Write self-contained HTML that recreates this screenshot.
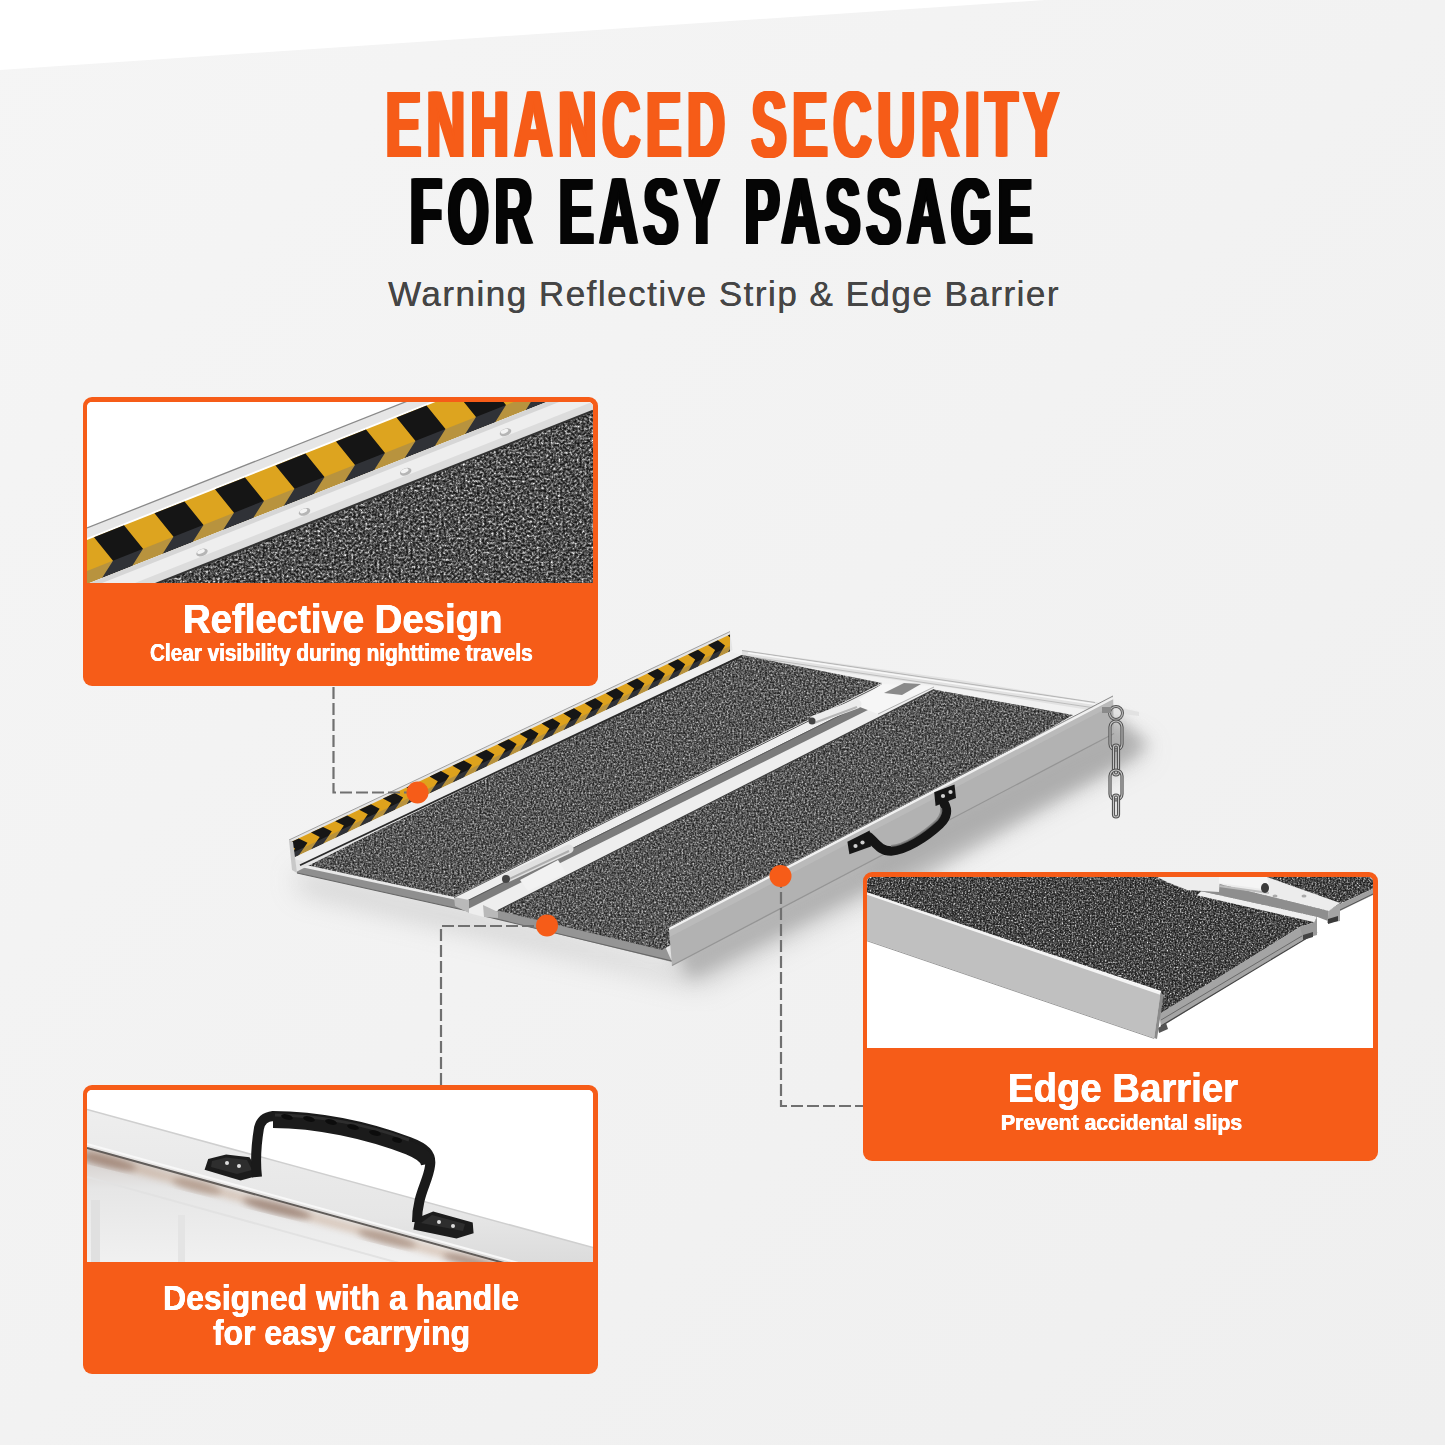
<!DOCTYPE html>
<html><head><meta charset="utf-8">
<style>
html,body{margin:0;padding:0;}
body{width:1445px;height:1445px;position:relative;overflow:hidden;background:#f3f3f3;font-family:"Liberation Sans",sans-serif;}
svg{position:absolute;left:0;top:0;}
.tx{position:absolute;white-space:nowrap;transform-origin:0 0;line-height:1;}
.box{position:absolute;width:515px;height:289px;background:#f65c18;border-radius:9px;overflow:hidden;}
.box .img{position:absolute;left:4px;top:5px;width:506px;background:#fff;border-radius:5px 5px 0 0;overflow:hidden;}
.box .img svg{position:absolute;left:0;top:0;}
.w{color:#fff;font-weight:bold;text-shadow:0.4px 0 0 #fff,-0.4px 0 0 #fff;}
</style></head>
<body>
<svg id="bg" width="1445" height="1445">
  <defs>
    <linearGradient id="bgg" x1="0" y1="0" x2="1" y2="1">
      <stop offset="0" stop-color="#f5f5f5"/>
      <stop offset="1" stop-color="#efefef"/>
    </linearGradient>
  </defs>
  <rect width="1445" height="1445" fill="url(#bgg)"/>
  <polygon points="0,0 1045,0 0,70" fill="#ffffff"/>
</svg>

<div class="tx" id="t1" style="left:385.5px;top:77px;font-size:95px;font-weight:bold;color:#f65c18;letter-spacing:11px;text-shadow:4px 0 0 #f65c18,2px 0 0 #f65c18,-2px 0 0 #f65c18,-4px 0 0 #f65c18;transform:scaleX(0.5508)">ENHANCED SECURITY</div>
<div class="tx" id="t2" style="left:410px;top:164px;font-size:95px;font-weight:bold;color:#050505;letter-spacing:11px;text-shadow:4px 0 0 #050505,2px 0 0 #050505,-2px 0 0 #050505,-4px 0 0 #050505;transform:scaleX(0.5495)">FOR EASY PASSAGE</div>
<div class="tx" id="sub" style="left:388px;top:276px;font-size:35px;color:#454545;letter-spacing:1.5px;text-shadow:0.35px 0 0 #454545">Warning Reflective Strip &amp; Edge Barrier</div>
<svg id="ramp" width="1445" height="1445">
  <defs>
    <filter id="carpet" x="0" y="0" width="100%" height="100%" filterUnits="objectBoundingBox" color-interpolation-filters="sRGB">
      <feTurbulence type="fractalNoise" baseFrequency="0.55" numOctaves="2" seed="3" result="n"/>
      <feColorMatrix in="n" type="matrix" values="1 0 0 0 0  1 0 0 0 0  1 0 0 0 0  0 0 0 0 1"/>
      <feComponentTransfer><feFuncR type="gamma" amplitude="0.95" exponent="1.8" offset="0.07"/><feFuncG type="gamma" amplitude="0.95" exponent="1.8" offset="0.07"/><feFuncB type="gamma" amplitude="0.95" exponent="1.8" offset="0.07"/></feComponentTransfer>
      <feGaussianBlur stdDeviation="0.45"/>
    </filter>
    <filter id="blur3"><feGaussianBlur stdDeviation="3"/></filter>
    <filter id="blur8"><feGaussianBlur stdDeviation="8"/></filter>
    <filter id="blur14"><feGaussianBlur stdDeviation="14"/></filter>
    <clipPath id="carpetClip">
      <polygon points="306,865 742,655 882,683 454,897"/>
      <polygon points="498,910.5 934,689.5 1073,715 662,950"/>
    </clipPath>
    <linearGradient id="wallR" x1="0" y1="0" x2="0.1" y2="1">
      <stop offset="0" stop-color="#c6c6c6"/>
      <stop offset="0.5" stop-color="#b9b9b9"/>
      <stop offset="1" stop-color="#a4a4a4"/>
    </linearGradient>
  </defs>
<polygon points="296,872 470,912 672,966 1114,734 1150,750 700,985 470,930 300,890" fill="#b9b9b9" filter="url(#blur14)" opacity="0.75"/>
<polygon points="672,945 1114,715 1150,745 690,978" fill="#9c9c9c" filter="url(#blur8)" opacity="0.6"/>
<polygon points="860,865 1114,720 1140,752 900,892" fill="#a8a8a8" filter="url(#blur8)" opacity="0.5"/>
<polygon points="742.0,650.0 960.0,680.0 1095.0,702.0 1139.0,712.0 1139.0,716.0 1095.0,711.0 960.0,689.0 742.0,658.0" fill="#e2e2e2" />
<line x1="742" y1="650.5" x2="1095" y2="702.5" stroke="#b5b5b5" stroke-width="1"/>
<line x1="745" y1="656" x2="1095" y2="708" stroke="#bdbdbd" stroke-width="1"/>
<line x1="748" y1="653" x2="1100" y2="705" stroke="#f8f8f8" stroke-width="1.5"/>
<polygon points="296.0,866.0 466.0,902.0 468.0,911.0 297.0,873.0" fill="#8f8f8f" />
<line x1="297" y1="873" x2="468" y2="911" stroke="#666" stroke-width="1.2"/>
<polygon points="484.0,906.0 664.0,944.0 672.0,962.0 484.0,916.0" fill="#959595" />
<line x1="484" y1="916" x2="672" y2="961" stroke="#666" stroke-width="1.2"/>
<rect x="290" y="640" width="800" height="320" filter="url(#carpet)" clip-path="url(#carpetClip)"/>
<polygon points="289.0,840.0 730.0,631.6 732.5,650.0 296.0,872.0" fill="#e4e4e4" />
<polygon points="291.0,842.1 730.0,634.6 730.0,651.6 291.0,859.1" fill="#dea21c"/>
<clipPath id="chevclip"><polygon points="291.0,841.1 730.0,633.6 730.0,652.6 291.0,860.1"/></clipPath><g clip-path="url(#chevclip)">
<polygon points="286.4,844.2 298.7,838.4 307.5,842.7 298.7,855.4 286.4,861.2 295.2,848.6" fill="#161616"/>
<polygon points="311.0,832.6 323.1,826.9 331.8,831.3 323.1,843.9 311.0,849.6 319.7,837.0" fill="#161616"/>
<polygon points="335.2,821.2 347.2,815.5 355.9,819.9 347.2,832.5 335.2,838.2 343.9,825.6" fill="#161616"/>
<polygon points="359.2,809.8 371.1,804.2 379.6,808.7 371.1,821.2 359.2,826.8 367.8,814.3" fill="#161616"/>
<polygon points="382.9,798.6 394.7,793.1 403.1,797.6 394.7,810.1 382.9,815.6 391.4,803.1" fill="#161616"/>
<polygon points="406.4,787.5 418.0,782.0 426.3,786.6 418.0,799.0 406.4,804.5 414.7,792.1" fill="#161616"/>
<polygon points="429.6,776.6 441.0,771.1 449.3,775.7 441.0,788.1 429.6,793.6 437.8,781.2" fill="#161616"/>
<polygon points="452.5,765.7 463.8,760.4 472.0,765.0 463.8,777.4 452.5,782.7 460.7,770.4" fill="#161616"/>
<polygon points="475.2,755.0 486.4,749.7 494.4,754.4 486.4,766.7 475.2,772.0 483.2,759.7" fill="#161616"/>
<polygon points="497.6,744.4 508.6,739.2 516.6,743.9 508.6,756.2 497.6,761.4 505.5,749.2" fill="#161616"/>
<polygon points="519.7,734.0 530.7,728.8 538.5,733.6 530.7,745.8 519.7,751.0 527.6,738.7" fill="#161616"/>
<polygon points="541.6,723.6 552.4,718.5 560.2,723.3 552.4,735.5 541.6,740.6 549.4,728.4" fill="#161616"/>
<polygon points="563.3,713.4 574.0,708.3 581.7,713.2 574.0,725.3 563.3,730.4 571.0,718.2" fill="#161616"/>
<polygon points="584.7,703.3 595.2,698.3 602.8,703.2 595.2,715.3 584.7,720.3 592.3,708.2" fill="#161616"/>
<polygon points="605.8,693.3 616.3,688.3 623.8,693.3 616.3,705.3 605.8,710.3 613.3,698.2" fill="#161616"/>
<polygon points="626.7,683.4 637.1,678.5 644.5,683.5 637.1,695.5 626.7,700.4 634.2,688.4" fill="#161616"/>
<polygon points="647.4,673.6 657.6,668.8 665.0,673.8 657.6,685.8 647.4,690.6 654.8,678.6" fill="#161616"/>
<polygon points="667.8,664.0 677.9,659.2 685.2,664.2 677.9,676.2 667.8,681.0 675.1,669.0" fill="#161616"/>
<polygon points="688.0,654.4 698.0,649.7 705.2,654.8 698.0,666.7 688.0,671.4 695.2,659.5" fill="#161616"/>
<polygon points="708.0,645.0 717.9,640.3 725.0,645.4 717.9,657.3 708.0,662.0 715.1,650.1" fill="#161616"/>
<polygon points="727.8,635.6 737.5,631.0 744.6,636.2 737.5,648.0 727.8,652.6 734.8,640.8" fill="#161616"/>
</g>
<polygon points="291.0,853.6 730.0,646.1 730.0,651.6 291.0,859.1" fill="#6a7080" opacity="0.32"/>
<polygon points="292.0,858.6 730.0,651.6 742.0,654.9 306.0,862.0" fill="#eeeeee" />
<line x1="300" y1="865.3" x2="742" y2="655.9" stroke="#2a2a2a" stroke-width="1.8"/>
<line x1="289" y1="840" x2="730" y2="631.6" stroke="#a0a0a0" stroke-width="1"/>
<polygon points="289.0,840.0 293.0,842.0 297.0,873.0 292.0,870.0" fill="#c8c8c8" />
<polygon points="454.0,897.0 882.0,684.0 934.0,689.5 498.0,910.5 484.0,917.0 469.0,913.0" fill="#eeeeee" />
<polygon points="466.0,901.0 890.0,690.0 890.0,699.0 466.0,910.0" fill="#7c7c7c" />
<line x1="466" y1="901.5" x2="890" y2="690.5" stroke="#5a5a5a" stroke-width="1"/>
<polygon points="454.0,897.0 469.0,900.0 469.0,913.0 455.0,906.0" fill="#b9b9b9" />
<polygon points="483.0,905.0 498.0,912.0 498.0,918.0 484.0,917.0" fill="#b9b9b9" />
<line x1="498" y1="910.5" x2="934" y2="689.5" stroke="#3a3a3a" stroke-width="1.2"/>
<line x1="454" y1="897.5" x2="882" y2="684.5" stroke="#555" stroke-width="1"/>
<polygon points="669.0,928.0 1113.0,697.0 1114.0,734.0 672.0,966.0" fill="#b2b2b2" />
<polygon points="669.0,928.0 1113.0,697.0 1113.2,705.0 669.6,937.0" fill="#bdbdbd" opacity="0.7"/>
<line x1="672" y1="965.5" x2="1114" y2="733.5" stroke="#959595" stroke-width="1.3"/>
<line x1="669" y1="929" x2="1113" y2="698" stroke="#f0f0f0" stroke-width="2.5"/>
<line x1="669" y1="927" x2="1113" y2="696" stroke="#888" stroke-width="1"/>
<polygon points="847.4,841.7 869.7,830.6 871.0,846.6 849.4,854.3" fill="#161616" />
<polygon points="934.2,792.3 954.5,784.5 956.0,798.1 935.6,805.9" fill="#161616" />
<circle cx="855.5" cy="846.0" r="2.1" fill="#d0d0d0"/>
<circle cx="862.5" cy="842.5" r="2.1" fill="#d0d0d0"/>
<circle cx="943.0" cy="796.0" r="2.1" fill="#d0d0d0"/>
<circle cx="950.5" cy="792.0" r="2.1" fill="#d0d0d0"/>
<path d="M869,837 C876,843 880,851 891,851 C905,850 925,838 940,824 C947,817 948,810 944,803" fill="none" stroke="#151515" stroke-width="9.5" stroke-linecap="round"/>
<path d="M891,846 C904,845 922,834 937,820 C941,815 942,812 941,808" fill="none" stroke="#7a7a7a" stroke-width="2.2" opacity="0.8"/>
<circle cx="1116" cy="713" r="6.5" fill="none" stroke="#555" stroke-width="3"/>
<circle cx="1116" cy="713" r="6.5" fill="none" stroke="#b8b8b8" stroke-width="1.2"/>
<rect x="1102" y="707" width="9" height="6" fill="#8a8a8a"/>
<rect x="1110.0" y="721" width="12" height="29" rx="6.0" fill="none" stroke="#505050" stroke-width="3.2"/>
<rect x="1110.0" y="721" width="12" height="29" rx="6.0" fill="none" stroke="#c4c4c4" stroke-width="1.1"/>
<rect x="1113.5" y="745" width="5" height="30" rx="2.5" fill="none" stroke="#505050" stroke-width="3.2"/>
<rect x="1113.5" y="745" width="5" height="30" rx="2.5" fill="none" stroke="#c4c4c4" stroke-width="1.1"/>
<rect x="1110.0" y="770" width="12" height="30" rx="6.0" fill="none" stroke="#505050" stroke-width="3.2"/>
<rect x="1110.0" y="770" width="12" height="30" rx="6.0" fill="none" stroke="#c4c4c4" stroke-width="1.1"/>
<rect x="1113.5" y="795" width="5" height="22" rx="2.5" fill="none" stroke="#505050" stroke-width="3.2"/>
<rect x="1113.5" y="795" width="5" height="22" rx="2.5" fill="none" stroke="#c4c4c4" stroke-width="1.1"/>
<polygon points="520,880 558,860 566,873 528,891" fill="#f2f2f2"/>
<path d="M507,878 L569,849" stroke="#e0e0e0" stroke-width="9" stroke-linecap="round"/>
<path d="M507,880 L569,851" stroke="#9a9a9a" stroke-width="2" opacity="0.7"/>
<circle cx="506" cy="879" r="4" fill="#444"/>
<polygon points="852,704 882,684 934,686 906,700 878,714" fill="#f6f6f6"/>
<polygon points="884,693 904,683 921,684 902,695" fill="#8a8a8a"/>
<line x1="878" y1="714" x2="934" y2="687" stroke="#b0b0b0" stroke-width="1"/>
<path d="M814,720 L857,704" stroke="#ececec" stroke-width="9" stroke-linecap="round"/>
<path d="M814,723 L857,707" stroke="#a0a0a0" stroke-width="2" opacity="0.7"/>
<circle cx="812" cy="721" r="3.5" fill="#444"/>
</svg>
<!-- box 1 -->
<div class="box" id="box1" style="left:83px;top:397px;">
  <div class="img" id="img1" style="height:181px;"><svg width="506" height="181"><defs><filter id="cp1" x="0" y="0" width="100%" height="100%" filterUnits="objectBoundingBox" color-interpolation-filters="sRGB">
      <feTurbulence type="fractalNoise" baseFrequency="0.42" numOctaves="2" seed="11" result="n"/>
      <feColorMatrix in="n" type="matrix" values="1 0 0 0 0  1 0 0 0 0  1 0 0 0 0  0 0 0 0 1"/>
      <feComponentTransfer><feFuncR type="gamma" amplitude="1.35" exponent="2.4" offset="0.05"/><feFuncG type="gamma" amplitude="1.35" exponent="2.4" offset="0.05"/><feFuncB type="gamma" amplitude="1.35" exponent="2.4" offset="0.05"/></feComponentTransfer>
      <feGaussianBlur stdDeviation="0.5"/>
    </filter></defs>
<rect width="506" height="181" fill="#ffffff"/>
<polygon points="0.0,209.0 506.0,8.6 506.0,181.0 0.0,181.0" fill="#3c3c3c"/>
<g clip-path="url(#c1clip)"><rect x="0" y="0" width="506" height="181" filter="url(#cp1)"/></g>
<clipPath id="c1clip"><polygon points="0.0,209.0 506.0,8.6 506.0,181.0 0.0,181.0"/></clipPath>
<polygon points="0.0,126.0 506.0,-74.4 506.0,-64.4 0.0,136.0" fill="#e6e6e6"/>
<line x1="0" y1="126.0" x2="506" y2="-74.4" stroke="#8a8a8a" stroke-width="1.3"/>
<polygon points="0.0,138.0 506.0,-62.4 506.0,-18.4 0.0,182.0" fill="#dda41f"/>
<polygon points="-53.5,159.2 -23.5,147.3 -4.5,170.8 -15.5,188.1 -45.5,200.0 -34.5,182.7" fill="#151515"/>
<polygon points="7.0,135.2 37.0,123.3 56.0,146.8 45.0,164.2 15.0,176.1 26.0,158.7" fill="#151515"/>
<polygon points="67.5,111.3 97.5,99.4 116.5,122.9 105.5,140.2 75.5,152.1 86.5,134.7" fill="#151515"/>
<polygon points="128.0,87.3 158.0,75.4 177.0,98.9 166.0,116.3 136.0,128.1 147.0,110.8" fill="#151515"/>
<polygon points="188.5,63.4 218.5,51.5 237.5,74.9 226.5,92.3 196.5,104.2 207.5,86.8" fill="#151515"/>
<polygon points="249.0,39.4 279.0,27.5 298.0,51.0 287.0,68.3 257.0,80.2 268.0,62.9" fill="#151515"/>
<polygon points="309.5,15.4 339.5,3.6 358.5,27.0 347.5,44.4 317.5,56.3 328.5,38.9" fill="#151515"/>
<polygon points="370.0,-8.5 400.0,-20.4 419.0,3.1 408.0,20.4 378.0,32.3 389.0,15.0" fill="#151515"/>
<polygon points="430.5,-32.5 460.5,-44.4 479.5,-20.9 468.5,-3.5 438.5,8.4 449.5,-9.0" fill="#151515"/>
<polygon points="491.0,-56.4 521.0,-68.3 540.0,-44.8 529.0,-27.5 499.0,-15.6 510.0,-33.0" fill="#151515"/>
<polygon points="0.0,169.0 506.0,-31.4 506.0,-18.4 0.0,182.0" fill="#6a7080" opacity="0.32"/>
<polygon points="0.0,182.0 506.0,-18.4 506.0,8.6 0.0,209.0" fill="#eeeeee"/>
<polygon points="0.0,182.0 506.0,-18.4 506.0,-13.4 0.0,187.0" fill="#d6d6d6"/>
<polygon points="0.0,200.0 506.0,-0.4 506.0,7.6 0.0,208.0" fill="#dcdcdc"/>
<line x1="0" y1="209.0" x2="506" y2="8.6" stroke="#333" stroke-width="2"/>
<ellipse cx="115.0" cy="150.5" rx="6" ry="3.5" fill="#b5b5b5" transform="rotate(-21.6 115.0 150.5)"/>
<ellipse cx="114.0" cy="149.5" rx="4" ry="2" fill="#f4f4f4" transform="rotate(-21.6 114.0 149.5)"/>
<ellipse cx="217.5" cy="109.9" rx="6" ry="3.5" fill="#b5b5b5" transform="rotate(-21.6 217.5 109.9)"/>
<ellipse cx="216.5" cy="108.9" rx="4" ry="2" fill="#f4f4f4" transform="rotate(-21.6 216.5 108.9)"/>
<ellipse cx="318.7" cy="69.8" rx="6" ry="3.5" fill="#b5b5b5" transform="rotate(-21.6 318.7 69.8)"/>
<ellipse cx="317.7" cy="68.8" rx="4" ry="2" fill="#f4f4f4" transform="rotate(-21.6 317.7 68.8)"/>
<ellipse cx="418.5" cy="30.3" rx="6" ry="3.5" fill="#b5b5b5" transform="rotate(-21.6 418.5 30.3)"/>
<ellipse cx="417.5" cy="29.3" rx="4" ry="2" fill="#f4f4f4" transform="rotate(-21.6 417.5 29.3)"/>
</svg></div>
</div>
<div class="tx w" id="b1h" style="left:182.6px;top:600px;font-size:39.8px;transform:scaleX(0.963)">Reflective Design</div>
<div class="tx w" id="b1s" style="left:150px;top:642px;font-size:23px;transform:scaleX(0.9016)">Clear visibility during nighttime travels</div>

<!-- box 2 -->
<div class="box" id="box2" style="left:863px;top:872px;">
  <div class="img" id="img2" style="height:171px;top:4.5px"><svg width="506" height="171"><defs><filter id="cp2" x="0" y="0" width="100%" height="100%" filterUnits="objectBoundingBox" color-interpolation-filters="sRGB">
      <feTurbulence type="fractalNoise" baseFrequency="0.6" numOctaves="2" seed="17" result="n"/>
      <feColorMatrix in="n" type="matrix" values="1 0 0 0 0  1 0 0 0 0  1 0 0 0 0  0 0 0 0 1"/>
      <feComponentTransfer><feFuncR type="gamma" amplitude="1.2" exponent="2.6" offset="0.08"/><feFuncG type="gamma" amplitude="1.2" exponent="2.6" offset="0.08"/><feFuncB type="gamma" amplitude="1.2" exponent="2.6" offset="0.08"/></feComponentTransfer>
      <feGaussianBlur stdDeviation="0.35"/>
    </filter></defs>
<rect width="506" height="171" fill="#ffffff"/>
<clipPath id="c2clip"><polygon points="0.0,0.0 506.0,0.0 506.0,11.8 473.0,27.0 450.0,40.0 447.5,45.3 433.0,50.0 294.0,137.0 294.0,114.0 0.0,15.6"/></clipPath>
<g clip-path="url(#c2clip)"><rect x="0" y="0" width="506" height="171" filter="url(#cp2)"/></g>
<polygon points="292.0,137.0 433.0,50.0 450.0,46.0 450.0,54.0 294.0,150.0" fill="#a4a4a4"/>
<line x1="294" y1="143" x2="450" y2="50" stroke="#6a6a6a" stroke-width="1"/>
<line x1="294" y1="149" x2="450" y2="55" stroke="#444" stroke-width="1.2"/>
<polygon points="291.0,151.0 299.0,146.0 301.0,152.0 292.0,156.0" fill="#555"/>
<polygon points="473.0,27.0 506.0,11.8 506.0,18.0 473.0,34.0" fill="#a0a0a0"/>
<line x1="473" y1="33" x2="506" y2="17" stroke="#555" stroke-width="1"/>
<polygon points="352.0,7.0 461.8,34.1 461.0,44.0 449.9,39.7 334.5,14.2" fill="#8e8e8e"/>
<polygon points="334.5,14.2 449.9,39.7 447.5,45.3 329.7,18.2" fill="#efefef"/>
<polygon points="447.5,45.3 450.0,40.0 450.0,58.0 436.0,62.0 433.0,50.0" fill="#9a9a9a"/>
<polygon points="436.0,58.0 446.0,55.0 446.0,60.0 436.0,63.0" fill="#444"/>
<polygon points="353.6,0.0 400.0,0.0 473.0,26.1 461.8,34.1 352.0,7.0" fill="#ececec"/>
<polygon points="461.8,34.1 473.0,26.1 473.0,44.0 460.0,46.0" fill="#a5a5a5"/>
<polygon points="461.0,42.0 471.0,39.0 471.0,44.0 461.0,47.0" fill="#3a3a3a"/>
<ellipse cx="408" cy="19" rx="2.5" ry="1.5" fill="#aaa"/>
<ellipse cx="437" cy="19" rx="2.5" ry="1.5" fill="#aaa"/>
<polygon points="290.0,0.0 353.0,0.0 352.0,15.0 320.0,13.0 300.0,5.0" fill="#ededed"/>
<polygon points="352.0,0.0 400.0,0.0 403.0,13.0 352.0,6.0" fill="#f5f5f5"/>
<line x1="352" y1="9" x2="402" y2="16" stroke="#bdbdbd" stroke-width="2"/>
<ellipse cx="398" cy="11" rx="4" ry="5" fill="#3a3a3a"/>
<linearGradient id="w2g" gradientUnits="userSpaceOnUse" x1="0" y1="20" x2="0" y2="64"><stop offset="0" stop-color="#c9c9c9"/><stop offset="1" stop-color="#bababa"/></linearGradient>
<polygon points="0.0,15.6 293.5,115.5 287.2,161.0 0.0,63.3" fill="#c0c0c0"/>
<line x1="0" y1="16.6" x2="293.5" y2="116.5" stroke="#f4f4f4" stroke-width="2.4"/>
<line x1="0" y1="63.8" x2="287.2" y2="161.5" stroke="#9a9a9a" stroke-width="1"/>
<polygon points="293.5,115.5 296.5,118.0 290.0,162.0 287.2,161.0" fill="#8a8a8a"/>
</svg></div>
</div>
<div class="tx w" id="b2h" style="left:1007.5px;top:1068px;font-size:40px;transform:scaleX(0.958)">Edge Barrier</div>
<div class="tx w" id="b2s" style="left:1000.7px;top:1112px;font-size:22px;transform:scaleX(0.962)">Prevent accidental slips</div>

<!-- box 3 -->
<div class="box" id="box3" style="left:83px;top:1085px;">
  <div class="img" id="img3" style="height:172px;top:4.7px"><svg width="506" height="172"><defs>
<filter id="b3blur"><feGaussianBlur stdDeviation="3"/></filter><linearGradient id="b3top" x1="0" y1="0" x2="0" y2="1"><stop offset="0" stop-color="#eeeeee"/><stop offset="0.6" stop-color="#e6e6e6"/><stop offset="1" stop-color="#d6d6d6"/></linearGradient>
<linearGradient id="b3side" x1="0" y1="0" x2="0" y2="1"><stop offset="0" stop-color="#cfc8c4"/><stop offset="0.3" stop-color="#e6e6e6"/><stop offset="1" stop-color="#f4f4f4"/></linearGradient>
</defs>
<rect width="506" height="172" fill="#ffffff"/>
<polygon points="0.0,19.5 506.0,157.6 506.0,196.5 0.0,57.0" fill="url(#b3top)"/>
<polygon points="0.0,57.0 506.0,196.5 506.0,172.0 0.0,172.0" fill="url(#b3side)"/>
<line x1="0" y1="19.5" x2="506" y2="157.6" stroke="#cfcfcf" stroke-width="1.5"/>
<line x1="0" y1="58.0" x2="506" y2="197.5" stroke="#5a5a5a" stroke-width="2"/>
<line x1="0" y1="65.0" x2="506" y2="204.5" stroke="#b88a68" stroke-width="9" opacity="0.35" filter="url(#b3blur)"/>
<line x1="0" y1="54.0" x2="506" y2="193.5" stroke="#f8f8f8" stroke-width="2" />
<ellipse cx="20" cy="71.5" rx="30" ry="6" fill="#7a5848" opacity="0.45" filter="url(#b3blur)" transform="rotate(13.8 20 71.5)"/>
<ellipse cx="110" cy="96.3" rx="25" ry="6" fill="#8a6a58" opacity="0.40" filter="url(#b3blur)" transform="rotate(13.8 110 96.3)"/>
<ellipse cx="190" cy="118.4" rx="35" ry="6" fill="#6a4a3a" opacity="0.45" filter="url(#b3blur)" transform="rotate(13.8 190 118.4)"/>
<ellipse cx="300" cy="148.7" rx="30" ry="6" fill="#7a5a48" opacity="0.40" filter="url(#b3blur)" transform="rotate(13.8 300 148.7)"/>
<ellipse cx="390" cy="173.5" rx="35" ry="6" fill="#6a4a3a" opacity="0.40" filter="url(#b3blur)" transform="rotate(13.8 390 173.5)"/>
<ellipse cx="470" cy="195.6" rx="20" ry="6" fill="#7a5a48" opacity="0.40" filter="url(#b3blur)" transform="rotate(13.8 470 195.6)"/>
<rect x="4" y="110" width="9" height="62" fill="#e0e0e0"/>
<rect x="91" y="125" width="7" height="47" fill="#e4e4e4"/>
<line x1="0" y1="87.0" x2="506" y2="226.5" stroke="#e2e2e2" stroke-width="2"/>
<polygon points="121.2,69.0 139.1,64.5 162.5,67.2 173.3,85.1 153.5,90.5 117.6,79.8" fill="#1c1c1c"/>
<polygon points="125.0,71.0 139.0,67.5 160.0,70.0 165.0,80.0 150.0,84.0 124.0,77.0" fill="#2e2e2e"/>
<polygon points="346.2,121.6 385.7,132.4 386.6,143.2 369.5,148.6 326.4,139.6 328.2,128.8" fill="#1c1c1c"/>
<polygon points="345.0,125.0 378.0,134.0 376.0,141.0 334.0,133.0" fill="#2e2e2e"/>
<circle cx="140" cy="73" r="2" fill="#ddd"/><circle cx="152" cy="76" r="2" fill="#ddd"/>
<circle cx="352" cy="132" r="2" fill="#ddd"/><circle cx="366" cy="136" r="2" fill="#ddd"/>
<path d="M170,87 C168,70 170,50 172,38 C174,30 178,27 186,26 C230,26 280,36 322,52 C338,58 345,64 343,76 C341,92 330,105 330,132" fill="none" stroke="#1a1a1a" stroke-width="10" stroke-linejoin="round"/>
<path d="M186,31 C230,31 280,42 322,58 C334,63 340,68 341,74" fill="none" stroke="#1b1b1b" stroke-width="14"/>
<path d="M188,25 C232,25 282,35 322,50" fill="none" stroke="#333" stroke-width="3" opacity="0.8"/>
<ellipse cx="200" cy="27" rx="6" ry="2.6" fill="#0c0c0c" transform="rotate(14 200 27)"/>
<ellipse cx="222" cy="29" rx="6" ry="2.6" fill="#0c0c0c" transform="rotate(14 222 29)"/>
<ellipse cx="244" cy="32" rx="6" ry="2.6" fill="#0c0c0c" transform="rotate(14 244 32)"/>
<ellipse cx="266" cy="37" rx="6" ry="2.6" fill="#0c0c0c" transform="rotate(14 266 37)"/>
<ellipse cx="288" cy="43" rx="6" ry="2.6" fill="#0c0c0c" transform="rotate(14 288 43)"/>
<ellipse cx="310" cy="50" rx="5" ry="2.6" fill="#0c0c0c" transform="rotate(14 310 50)"/>
</svg></div>
</div>
<div class="tx w" id="b3a" style="left:162.5px;top:1280.5px;font-size:34.3px;transform:scaleX(0.934)">Designed with a handle</div>
<div class="tx w" id="b3b" style="left:213px;top:1316px;font-size:34.3px;transform:scaleX(0.9297)">for easy carrying</div>

<!-- connectors -->
<svg id="conn" width="1445" height="1445">
  <g fill="none" stroke="#707070" stroke-width="2.2" stroke-dasharray="12 4">
    <polyline points="333.5,687 333.5,792.5 417,792.5"/>
    <polyline points="441,1085 441,926 547,926"/>
    <polyline points="781,876 781,1106 863,1106"/>
  </g>
  <g fill="#f65c18">
    <circle cx="417.5" cy="792.5" r="11"/>
    <circle cx="547" cy="925.5" r="11"/>
    <circle cx="780.5" cy="876" r="11"/>
  </g>
</svg>
</body></html>
